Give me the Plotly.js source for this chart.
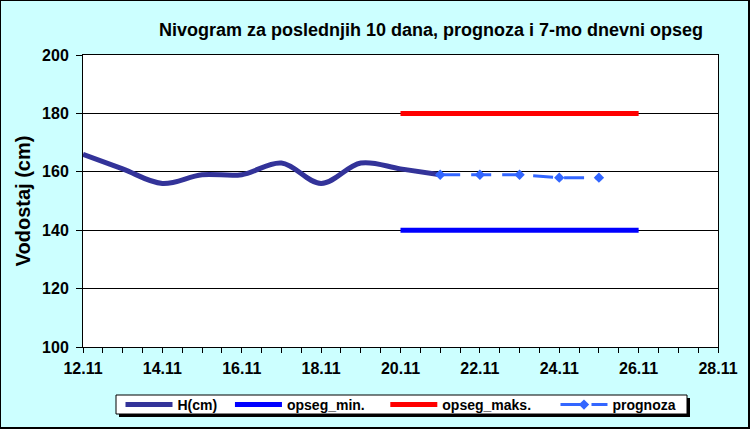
<!DOCTYPE html>
<html>
<head>
<meta charset="utf-8">
<script src="https://cdn.plot.ly/plotly-3.0.1.min.js"></script>
<style>
html,body{margin:0;padding:0;background:#CCFFFF;}
#wrap{position:relative;width:750px;height:429px;}
#chart{width:750px;height:429px;}
#frame{position:absolute;left:0;top:0;width:750px;height:429px;box-sizing:border-box;border:1px solid #000;border-right-width:2px;border-bottom-width:2px;pointer-events:none;}
</style>
</head>
<body>
<div id="wrap"><div id="chart"></div><div id="frame"></div></div>
<script>
// Observed water level H(cm)
const hDates = ["2023-11-12","2023-11-13","2023-11-14","2023-11-15","2023-11-16","2023-11-17","2023-11-18","2023-11-19","2023-11-20","2023-11-21"];
const hValues = [166, 161, 156, 159, 159, 163, 156, 163, 161, 159];
// 7-day range
const rangeDates = ["2023-11-20","2023-11-26"];
const rangeMin = [140, 140];
const rangeMax = [180, 180];
// Forecast
const progDates = ["2023-11-21","2023-11-22","2023-11-23","2023-11-24","2023-11-25"];
const progValues = [159, 159, 159, 158, 158];
// Legend names
const seriesNames = ["H(cm)", "opseg_min.", "opseg_maks.", "prognoza"];

const FONT = "Liberation Sans, Arial, sans-serif";
const pad = n => "&nbsp;".repeat(n);

const traces = [
  {x: hDates, y: hValues, name: seriesNames[0] + pad(2), mode: "lines", type: "scatter",
   line: {color: "#333399", width: 5, shape: "spline", smoothing: 1}},
  {x: rangeDates, y: rangeMin, name: seriesNames[1] + pad(4), mode: "lines", type: "scatter",
   line: {color: "#0000FF", width: 5}},
  {x: rangeDates, y: rangeMax, name: seriesNames[2] + pad(5), mode: "lines", type: "scatter",
   line: {color: "#FF0000", width: 5}},
  {x: progDates, y: progValues, name: seriesNames[3], mode: "lines+markers", type: "scatter",
   line: {color: "#3366FF", width: 3, dash: "20px,11px"},
   marker: {symbol: "diamond", size: 8, color: "#3366FF"}}
];

const px2x = p => (p - 83) / 635;
const px2y = p => (347 - p) / 292;

const layout = {
  width: 750, height: 429,
  paper_bgcolor: "#CCFFFF", plot_bgcolor: "#FFFFFF",
  margin: {l: 83, r: 32, t: 55, b: 82, autoexpand: false},
  font: {family: FONT, color: "#000", size: 16, weight: "bold"},
  title: {text: "<b>Nivogram za poslednjih 10 dana, prognoza i 7-mo dnevni opseg</b>",
          font: {family: FONT, size: 18, color: "#000"},
          xref: "paper", x: 0.548, xanchor: "center", yref: "container", y: 0.93, yanchor: "middle"},
  xaxis: {type: "date", range: ["2023-11-12", "2023-11-28"], dtick: 172800000, tick0: "2023-11-12",
          tickformat: "%d.%m", showgrid: false, showline: true, linecolor: "#000", linewidth: 1, mirror: true,
          ticks: "outside", ticklen: 5, tickcolor: "#000", tickfont: {family: FONT, size: 16, weight: "bold"},
          ticklabelstandoff: 2,
          minor: {dtick: 43200000, ticks: "outside", ticklen: 5, tickcolor: "#000", showgrid: false},
          zeroline: false, fixedrange: true, automargin: false},
  yaxis: {range: [100, 200], dtick: 20, showgrid: true, gridcolor: "#000", gridwidth: 1,
          showline: true, linecolor: "#000", linewidth: 1, mirror: true,
          ticks: "outside", ticklen: 6, tickcolor: "#000", tickfont: {family: FONT, size: 16, weight: "bold"},
          ticklabelstandoff: 4,
          title: {text: "<b>Vodostaj (cm)</b>", font: {family: FONT, size: 20}, standoff: 6},
          zeroline: false, fixedrange: true, automargin: false},
  showlegend: true,
  legend: {orientation: "h", xref: "paper", x: px2x(401), xanchor: "center",
           yref: "container", y: 1 - 405 / 429, yanchor: "middle",
           bgcolor: "rgba(0,0,0,0)", borderwidth: 0,
           font: {family: FONT, size: 14, weight: "bold"}, itemwidth: 47, tracegroupgap: 0},
  shapes: [
    {type: "rect", xref: "paper", yref: "paper", layer: "below",
     x0: px2x(119), x1: px2x(690), y0: px2y(417), y1: px2y(398),
     fillcolor: "#000", line: {width: 0}},
    {type: "rect", xref: "paper", yref: "paper", layer: "below",
     x0: px2x(116), x1: px2x(687), y0: px2y(414), y1: px2y(395),
     fillcolor: "#FFFFFF", line: {width: 1, color: "#000"}}
  ]
};

Plotly.newPlot("chart", traces, layout, {displayModeBar: false, staticPlot: true});
</script>
</body>
</html>
